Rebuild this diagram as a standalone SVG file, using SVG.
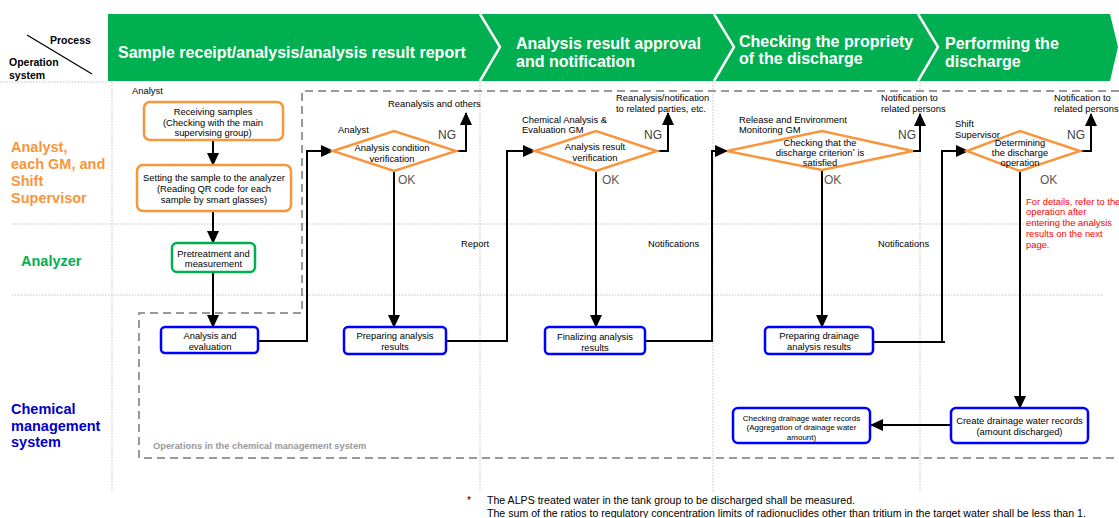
<svg xmlns="http://www.w3.org/2000/svg" width="1119" height="518" viewBox="0 0 1119 518">
<style>
text{font-family:"Liberation Sans",Arial,sans-serif;fill:#000;font-size:9.4px}
.c{text-anchor:middle}
.hdr{font-size:16px;font-weight:bold;fill:#fff}
.lane{font-size:14.5px;font-weight:bold}
.ng{font-size:12px;fill:#404040}
.ok{font-size:12px;fill:#595959}
.grid{stroke:#c0c0c0;stroke-width:1;stroke-dasharray:1.5 1.5;fill:none}
.ob{fill:#fff;stroke:#f7963c;stroke-width:2.5}
.bb{fill:#fff;stroke:#0000ff;stroke-width:2.5}
.gb{fill:#fff;stroke:#00b050;stroke-width:2.5}
.con{fill:none;stroke:#000;stroke-width:2;marker-end:url(#ah)}
.con0{fill:none;stroke:#000;stroke-width:2}
.red{fill:#ff0000}
.fn{font-size:10.6px}
</style>
<defs>
<marker id="ah" markerUnits="userSpaceOnUse" markerWidth="13" markerHeight="12" refX="12" refY="6" orient="auto">
<path d="M0,0 L13,6 L0,12 z" fill="#000"/>
</marker>
</defs>
<rect width="1119" height="518" fill="#fff"/>

<!-- header -->
<g id="header">
<polygon points="108,14 1110,14 1118,47 1110,81 108,81" fill="#00b050"/>
<polyline points="480,14 500,47 480,81" fill="none" stroke="#fff" stroke-width="2.5"/>
<polyline points="714,14 734,47 714,81" fill="none" stroke="#fff" stroke-width="2.5"/>
<polyline points="918,14 938,47 918,81" fill="none" stroke="#fff" stroke-width="2.5"/>
<text class="hdr" x="118" y="57.5">Sample receipt/analysis/analysis result report</text>
<text class="hdr" x="516" y="49">Analysis result approval</text>
<text class="hdr" x="516" y="67">and notification</text>
<text class="hdr" x="739" y="47">Checking the propriety</text>
<text class="hdr" x="739" y="64">of the discharge</text>
<text class="hdr" x="945" y="49">Performing the</text>
<text class="hdr" x="945" y="67">discharge</text>
<line x1="27" y1="35" x2="92" y2="74" stroke="#000" stroke-width="1.3"/>
<text x="50" y="44" style="font-size:10.5px;font-weight:bold">Process</text>
<text x="9" y="66" style="font-size:10.5px;font-weight:bold">Operation</text>
<text x="9" y="79" style="font-size:10.5px;font-weight:bold">system</text>
</g>

<!-- grid -->
<g id="grid">
<line class="grid" x1="0" y1="82" x2="108" y2="82"/>
<line class="grid" x1="12" y1="224" x2="1103" y2="224"/>
<line class="grid" x1="12" y1="295" x2="1103" y2="295"/>
<line class="grid" x1="112" y1="82" x2="112" y2="493"/>
<line class="grid" x1="480" y1="82" x2="480" y2="493"/>
<line class="grid" x1="713" y1="82" x2="713" y2="493"/>
<line class="grid" x1="920" y1="82" x2="920" y2="493"/>
</g>

<!-- lane labels -->
<g id="lanes">
<text class="lane" x="11" y="152" style="fill:#f7963c">Analyst,</text>
<text class="lane" x="11" y="169" style="fill:#f7963c">each GM, and</text>
<text class="lane" x="11" y="186" style="fill:#f7963c">Shift</text>
<text class="lane" x="11" y="203" style="fill:#f7963c">Supervisor</text>
<text class="lane" x="21" y="266" style="fill:#00b050">Analyzer</text>
<text class="lane" x="11" y="414" style="fill:#0000cc">Chemical</text>
<text class="lane" x="11" y="431" style="fill:#0000cc">management</text>
<text class="lane" x="11" y="447" style="fill:#0000cc">system</text>
</g>

<!-- chemical management system region -->
<g id="cms-region">
<path d="M1119,91 L302,91 L302,313 L139,313 L139,458 L1119,458" fill="none" stroke="#999" stroke-width="2" stroke-dasharray="8 5"/>
<text x="153" y="448.5" style="font-size:9.3px;font-weight:bold;fill:#999">Operations in the chemical management system</text>
</g>

<!-- connectors -->
<g id="connectors">
<line class="con" x1="213" y1="140" x2="213" y2="165"/>
<line class="con" x1="213" y1="211" x2="213" y2="243"/>
<line class="con" x1="213" y1="272" x2="213" y2="327"/>
<polyline class="con" points="258,341 307,341 307,151 333,151"/>
<polyline class="con" points="456,151 466,151 466,113"/>
<line class="con" x1="394" y1="171" x2="394" y2="327"/>
<polyline class="con" points="446,341 507,341 507,151 535,151"/>
<polyline class="con" points="657,151 668,151 668,113"/>
<line class="con" x1="596" y1="171" x2="596" y2="327"/>
<polyline class="con" points="645,341 712,341 712,151 727,151"/>
<polyline class="con" points="913,151 920,151 920,114"/>
<line class="con" x1="822" y1="170" x2="822" y2="327"/>
<polyline class="con0" points="873,342 945,342"/>
<polyline class="con" points="942,342 942,151 968,151"/>
<polyline class="con" points="1080,151 1091,151 1091,114"/>
<line class="con" x1="1020" y1="171" x2="1020" y2="408"/>
<line class="con" x1="951" y1="425" x2="871" y2="425"/>
</g>

<!-- nodes -->
<g id="receiving-samples">
<text x="132" y="94">Analyst</text>
<rect class="ob" x="144" y="102" width="139" height="38" rx="6"/>
<text class="c" x="213" y="115">Receiving samples</text>
<text class="c" x="213" y="125.5">(Checking with the main</text>
<text class="c" x="213" y="136">supervising group)</text>
</g>
<g id="setting-sample">
<rect class="ob" x="137" y="165" width="154" height="46" rx="6"/>
<text class="c" x="214" y="180.5">Setting the sample to the analyzer</text>
<text class="c" x="214" y="191.5">(Reading QR code for each</text>
<text class="c" x="214" y="202.5">sample by smart glasses)</text>
</g>
<g id="pretreatment">
<rect class="gb" x="172" y="243" width="83" height="29" rx="5"/>
<text class="c" x="213.5" y="256.5">Pretreatment and</text>
<text class="c" x="213.5" y="266.5">measurement</text>
</g>
<g id="analysis-evaluation">
<rect class="bb" x="161" y="327" width="97" height="26" rx="4"/>
<text class="c" x="210" y="338.5">Analysis and</text>
<text class="c" x="210" y="349.5">evaluation</text>
</g>
<g id="analysis-condition">
<text x="338" y="132.5">Analyst</text>
<text x="388" y="106.5">Reanalysis and others</text>
<polygon points="333,151 394,131 456,151 394,171" fill="#fff" stroke="#f7963c" stroke-width="2.5"/>
<text class="c" x="392" y="150.5">Analysis condition</text>
<text class="c" x="392" y="161.5">verification</text>
<text class="ng" x="438" y="139">NG</text>
<text class="ok" x="398" y="184">OK</text>
</g>
<g id="preparing-results">
<rect class="bb" x="344" y="327" width="102" height="27" rx="4"/>
<text class="c" x="395" y="338.5">Preparing analysis</text>
<text class="c" x="395" y="349.5">results</text>
<text x="461" y="246.5">Report</text>
</g>
<g id="analysis-result-verification">
<text x="522" y="122.5">Chemical Analysis &amp;</text>
<text x="522" y="132.5">Evaluation GM</text>
<text x="616" y="100.5">Reanalysis/notification</text>
<text x="616" y="111.5">to related parties, etc.</text>
<polygon points="535,151 596,131 657,151 596,171" fill="#fff" stroke="#f7963c" stroke-width="2.5"/>
<text class="c" x="595" y="149.5">Analysis result</text>
<text class="c" x="595" y="160.5">verification</text>
<text class="ng" x="644" y="139">NG</text>
<text class="ok" x="602" y="184">OK</text>
</g>
<g id="finalizing-results">
<rect class="bb" x="545" y="327" width="100" height="27" rx="4"/>
<text class="c" x="595" y="339.5">Finalizing analysis</text>
<text class="c" x="595" y="350.5">results</text>
<text x="648" y="247">Notifications</text>
</g>
<g id="discharge-criterion">
<text x="739" y="122.5">Release and Environment</text>
<text x="739" y="132.5">Monitoring GM</text>
<text x="881" y="100.5">Notification to</text>
<text x="881" y="111.5">related persons</text>
<polygon points="727,151 822,131 913,151 822,170" fill="#fff" stroke="#f7963c" stroke-width="2.5"/>
<text class="c" x="820" y="145.5">Checking that the</text>
<text class="c" x="820" y="155.5">discharge criterion<tspan style="font-size:6px" dy="-3">*</tspan><tspan dy="3"> is</tspan></text>
<text class="c" x="820" y="165.5">satisfied</text>
<text class="ng" x="898" y="139">NG</text>
<text class="ok" x="824" y="184">OK</text>
</g>
<g id="preparing-drainage">
<rect class="bb" x="765" y="327" width="108" height="27" rx="4"/>
<text class="c" x="819" y="338.5">Preparing drainage</text>
<text class="c" x="819" y="349.5">analysis results</text>
<text x="878" y="246.5">Notifications</text>
</g>
<g id="determining-operation">
<text x="955" y="126.5">Shift</text>
<text x="955" y="137.5">Supervisor</text>
<text x="1054" y="100.5">Notification to</text>
<text x="1054" y="111.5">related persons</text>
<polygon points="967,151 1020,131 1080,151 1020,171" fill="#fff" stroke="#f7963c" stroke-width="2.5"/>
<text class="c" x="1020" y="145.5">Determining</text>
<text class="c" x="1020" y="155.5">the discharge</text>
<text class="c" x="1020" y="165.5">operation</text>
<text class="ng" x="1067" y="139">NG</text>
<text class="ok" x="1040" y="184">OK</text>
<text class="red" x="1026" y="204.5">For details, refer to the</text>
<text class="red" x="1026" y="215.3">operation after</text>
<text class="red" x="1026" y="226.1">entering the analysis</text>
<text class="red" x="1026" y="236.9">results on the next</text>
<text class="red" x="1026" y="247.7">page.</text>
</g>
<g id="create-records">
<rect class="bb" x="951" y="408" width="137" height="35" rx="5"/>
<text class="c" x="1019.5" y="423.5">Create drainage water records</text>
<text class="c" x="1019.5" y="434.5">(amount discharged)</text>
</g>
<g id="checking-records">
<rect class="bb" x="733" y="408" width="137" height="35" rx="5"/>
<text class="c" x="801.5" y="420.5" style="font-size:8px">Checking drainage water records</text>
<text class="c" x="801.5" y="430" style="font-size:8px">(Aggregation of drainage water</text>
<text class="c" x="801.5" y="439.5" style="font-size:8px">amount)</text>
</g>

<!-- footnote -->
<g id="footnote">
<text x="467" y="504" style="font-size:10px">*</text>
<text class="fn" x="487" y="503.5">The ALPS treated water in the tank group to be discharged shall be measured.</text>
<text class="fn" x="487" y="516.5">The sum of the ratios to regulatory concentration limits of radionuclides other than tritium in the target water shall be less than 1.</text>
</g>
</svg>
